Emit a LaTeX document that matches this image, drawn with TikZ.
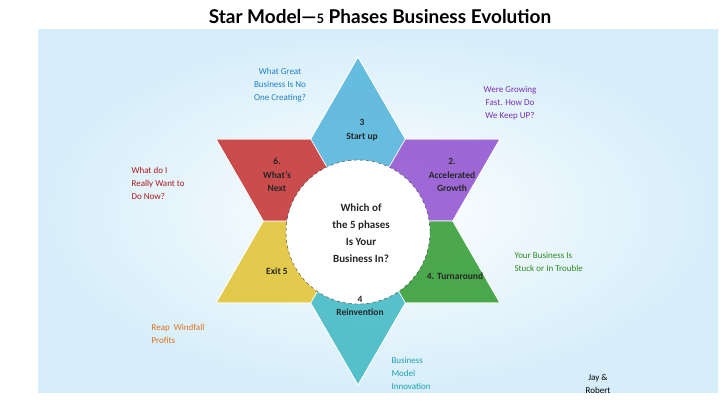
\documentclass[tikz,border=0pt]{standalone}
\usepackage{fontspec}
\setmainfont{Carlito}
\newfontfamily\titlefont{Lato}
\usetikzlibrary{calc}

\definecolor{armblue}{HTML}{4FB3DA}
\definecolor{armpurple}{HTML}{8F4FD0}
\definecolor{armgreen}{HTML}{2E9A2E}
\definecolor{armteal}{HTML}{3DB8C2}
\definecolor{armyellow}{HTML}{E2C22E}
\definecolor{armred}{HTML}{C42E2E}
\definecolor{txtblue}{HTML}{1F7FC4}
\definecolor{txtpurple}{HTML}{7A2FB0}
\definecolor{txtred}{HTML}{B01818}
\definecolor{txtgreen}{HTML}{2E8A1E}
\definecolor{txtorange}{HTML}{E0701A}
\definecolor{txtteal}{HTML}{1E9EB0}
\definecolor{panel}{HTML}{D6EEFA}

\tikzset{
  note/.style = {font=\fontsize{9}{13}\selectfont, align=left},
  phase/.style = {font=\bfseries\fontsize{9.5}{13.5}\selectfont, text=black!85, align=center},
  arm/.style = {draw=white, line width=0.6pt, fill opacity=0.85}
}

\begin{document}
\begin{tikzpicture}[x=1pt, y=1pt]
\useasboundingbox (0,0) rectangle (720,405);
% background panel
\shade[inner color=white, outer color=panel] (38,13) rectangle (718,375);
% title
\node (title) at (380,388) {\titlefont\bfseries\fontsize{19}{22}\selectfont Star Model\textemdash{\fontsize{13}{15}\selectfont 5} Phases Business Evolution};

% star arms
\coordinate (c) at (358,184);
\foreach \ang/\col in {90/armblue, 30/armpurple, -30/armgreen, -90/armteal, -150/armyellow, 150/armred}{
  \fill[arm, fill=\col] (c) -- ($(c)+(\ang-30:94.7)$) -- ($(c)+(\ang:164)$)
    -- ($(c)+(\ang+30:94.7)$) -- cycle;
}
\foreach \ang in {90, 30, -30, -90, -150, 150}{
  \draw[white, line width=0.6pt] ($(c)+(\ang-30:94.7)$) -- ($(c)+(\ang:164)$)
    -- ($(c)+(\ang+30:94.7)$);
}

% centre
\node[circle, draw=black!80, dashed, fill=white, minimum size=144pt] (hub) at (358,173) {};
\node[phase, font=\bfseries\fontsize{11}{17}\selectfont] (ask) at (361,172) {Which of\\the 5 phases\\Is Your\\Business In?};

% phase labels
\node[phase] (p3) at (362,275) {3\\Start up};
\node[phase] (p2) at (452,230) {2.\\Accelerated\\Growth};
\node[phase] (p6) at (277,230) {6.\\What's\\Next};
\node[phase] (p5) at (277,134) {Exit 5};
\node[phase] (p4) at (455,129) {4. Turnaround};
\node[phase] (p4b) at (360,99) {4\\Reinvention};

% notes
\node[note, text=txtblue, align=center] (n3) at (280,320) {What Great\\Business Is No\\One Creating?};
\node[note, text=txtpurple, align=center] (n2) at (510,302) {Were Growing\\Fast. How Do\\We Keep UP?};
\node[note, text=txtred, anchor=west] (n6) at (128,222) {What do I\\Really Want to\\Do Now?};
\node[note, text=txtgreen, anchor=west] (n4) at (511,143) {Your Business Is\\Stuck or In Trouble};
\node[note, text=txtorange, anchor=west] (n5) at (148,71) {Reap~~Windfall\\Profits};
\node[note, text=txtteal, anchor=west] (n4b) at (388,32) {Business\\Model\\Innovation};
\node[note, text=black, align=center] (who) at (598,21) {Jay \&\\Robert};
\end{tikzpicture}
\end{document}
